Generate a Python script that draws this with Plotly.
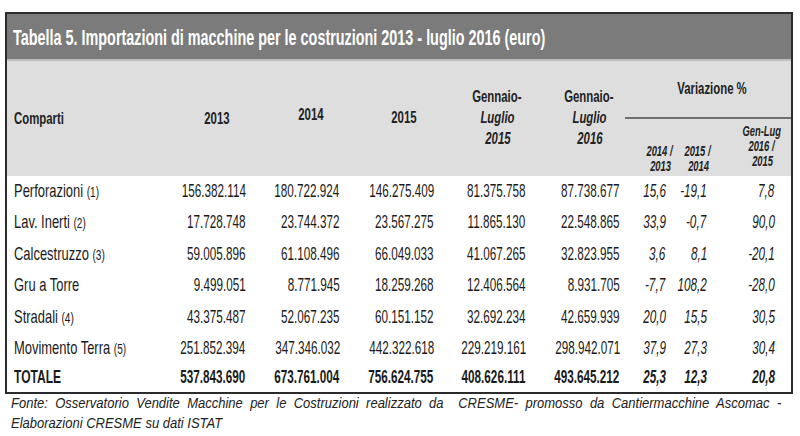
import json
import plotly.graph_objects as go

# ── Data ──────────────────────────────────────────────────────────────────────
comparti = ["Perforazioni", "Lav. Inerti", "Calcestruzzo", "Gru a Torre",
            "Stradali", "Movimento Terra", "TOTALE"]
note = ["(1)", "(2)", "(3)", "", "(4)", "(5)", ""]

imp_2013 = [156382114, 17728748, 59005896, 9499051, 43375487, 251852394, 537843690]
imp_2014 = [180722924, 23744372, 61108496, 8771945, 52067235, 347346032, 673761004]
imp_2015 = [146275409, 23567275, 66049033, 18259268, 60151152, 442322618, 756624755]
gl_2015 = [81375758, 11865130, 41067265, 12406564, 32692234, 229219161, 408626111]
gl_2016 = [87738677, 22548865, 32823955, 8931705, 42659939, 298942071, 493645212]
var_14_13 = [15.6, 33.9, 3.6, -7.7, 20.0, 37.9, 25.3]
var_15_14 = [-19.1, -0.7, 8.1, 108.2, 15.5, 27.3, 12.3]
var_gl = [7.8, 90.0, -20.1, -28.0, 30.5, 30.4, 20.8]

title = "Tabella 5. Importazioni di macchine per le costruzioni 2013 - luglio 2016 (euro)"
fonte_1 = ("Fonte: Osservatorio Vendite Macchine per le Costruzioni realizzato da  "
           "CRESME- promosso da Cantiermacchine Ascomac -")
fonte_2 = "Elaborazioni CRESME su dati ISTAT"

# ── Layout constants (pixels) ────────────────────────────────────────────────
W, H = 800, 436
FONT = "Liberation Sans, Arial, sans-serif"
LEFT, RIGHT = 6, 792
TOP, TITLE_BOT, HEAD_BOT, BOT = 13, 60, 176, 393
row_y = [191, 222, 254, 285, 317, 348, 377]
col_right = [248, 342, 436, 528, 622, 668, 709, 777]
SQ = 0.67  # horizontal squash of the original (narrow type)


def fmt_int(v):
    return f"{v:,}".replace(",", ".")


def fmt_pct(v):
    return f"{v:.1f}".replace(".", ",")


ann, xscale = [], []


def txt(x, y, s, size=17.5, bold=False, italic=False, color="#1a1a1a",
        xanchor="left", yanchor="middle", sx=SQ):
    if bold:
        s = f"<b>{s}</b>"
    if italic:
        s = f"<i>{s}</i>"
    ann.append(dict(x=x, y=y, xref="x", yref="y", text=s, showarrow=False,
                    xanchor=xanchor, yanchor=yanchor, align=xanchor,
                    font=dict(family=FONT, size=size, color=color)))
    xscale.append(sx)


fig = go.Figure()

shapes = [
    dict(type="rect", x0=LEFT, x1=RIGHT, y0=TOP, y1=TITLE_BOT,
         fillcolor="#7b7b7b", line_width=0, layer="below"),
    dict(type="rect", x0=LEFT, x1=RIGHT, y0=TITLE_BOT, y1=HEAD_BOT,
         fillcolor="#dedede", line_width=0, layer="below"),
    dict(type="line", x0=LEFT, x1=RIGHT, y0=TITLE_BOT, y1=TITLE_BOT,
         line=dict(color="#bdbdbd", width=2)),
    dict(type="line", x0=625, x1=RIGHT, y0=118, y1=118,
         line=dict(color="#6e6e6e", width=2)),
    dict(type="rect", x0=LEFT, x1=RIGHT, y0=TOP, y1=BOT,
         line=dict(color="#2b2b2b", width=2)),
]

txt(11, 37, title, size=22.5, bold=True, color="white", sx=0.64)

# header
hdr = "#222222"
txt(12, 118, "Comparti", size=17, bold=True, color=hdr)
for x, y, s in [(217, 118, "2013"), (311, 114, "2014"), (404, 117, "2015")]:
    txt(x, y, s, size=17, bold=True, color=hdr, xanchor="center")
for x, yr in [(497, "2015"), (589, "2016")]:
    for y, s, it in [(96, "Gennaio-", False), (117, "Luglio", True), (138, yr, True)]:
        txt(x, y, s, size=17, bold=True, italic=it, color=hdr, xanchor="center")
txt(712, 88, "Variazione %", size=17, bold=True, color=hdr, xanchor="center")
for x, lines in [(660, ["2014 /", "2013"]), (698, ["2015 /", "2014"]),
                 (762, ["Gen-Lug", "2016 /", "2015"])]:
    y0 = 151 if len(lines) == 2 else 131
    for i, s in enumerate(lines):
        txt(x, y0 + i * 15, s, size=14, bold=True, italic=True, color=hdr,
            xanchor="center")

# body
cols_int = [imp_2013, imp_2014, imp_2015, gl_2015, gl_2016]
cols_pct = [var_14_13, var_15_14, var_gl]
for r, name in enumerate(comparti):
    y = row_y[r]
    bold = name == "TOTALE"
    label = f"<b>{name}</b>" if bold else name
    if note[r]:
        label += f" <span style='font-size:14px'>{note[r]}</span>"
    txt(12, y, label, size=18, sx=0.72 if not bold else 0.67)
    for c, vals in enumerate(cols_int):
        txt(col_right[c], y, fmt_int(vals[r]), bold=bold, xanchor="right")
    for c, vals in enumerate(cols_pct):
        txt(col_right[5 + c], y, fmt_pct(vals[r]), bold=bold, italic=True,
            xanchor="right")

# footer (first line justified in the original -> wider word spacing)
txt(9, 413, f"<span style='word-spacing:4px'>{fonte_1}</span>", size=14,
    italic=True, color="#222222", yanchor="bottom", sx=0.93)
txt(9, 413, fonte_2, size=14, italic=True, color="#222222", yanchor="top",
    sx=0.93)

fig.update_layout(
    width=W, height=H,
    margin=dict(l=0, r=0, t=0, b=0),
    paper_bgcolor="white", plot_bgcolor="white",
    xaxis=dict(range=[0, W], visible=False, fixedrange=True),
    yaxis=dict(range=[H, 0], visible=False, fixedrange=True),
    shapes=shapes, annotations=ann, showlegend=False,
)

# condense glyphs horizontally around each annotation's anchor point
squash_js = """
document.body.style.margin = '0';
var sc = %s;
document.querySelectorAll('g.annotation').forEach(function (g) {
  var i = +g.getAttribute('data-index');
  var t = g.querySelector('text.annotation-text');
  if (!t || sc[i] === undefined) return;
  var x = parseFloat(t.getAttribute('x')) || 0;
  t.setAttribute('transform',
    'translate(' + x + ',0) scale(' + sc[i] + ',1) translate(' + (-x) + ',0)');
});
""" % json.dumps(xscale)

fig.write_html("out.html", post_script=squash_js,
               config={"displayModeBar": False})
